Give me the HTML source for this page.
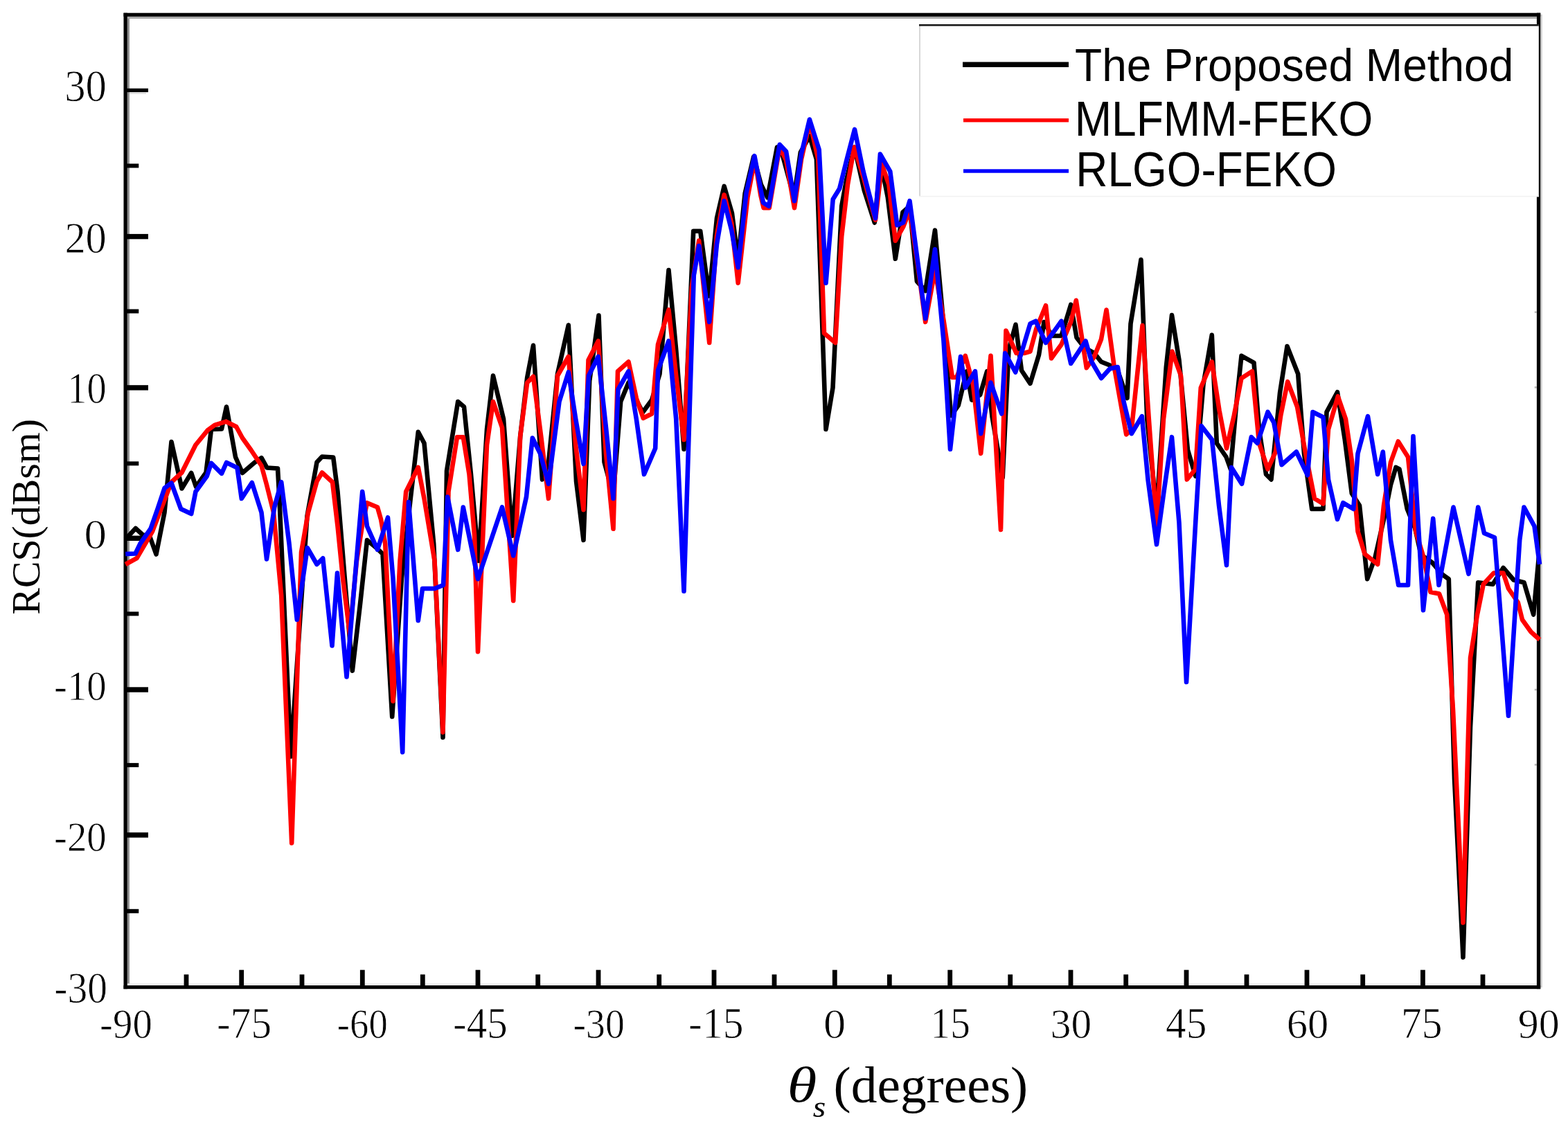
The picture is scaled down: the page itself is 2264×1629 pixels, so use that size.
<!DOCTYPE html>
<html lang="en"><head><meta charset="utf-8"><title>RCS comparison</title>
<style>html,body{margin:0;padding:0;background:#fff;}body{width:2264px;height:1629px;overflow:hidden;}svg{display:block;}</style>
</head><body>
<svg width="2264" height="1629" viewBox="0 0 2264 1629">
<rect x="0" y="0" width="2264" height="1629" fill="#fff"/>
<g>
<rect x="183.8" y="23.9" width="3.1" height="1399" fill="#8c8c8c"/>
<rect x="183.8" y="23.9" width="2035" height="3.1" fill="#a8a8a8"/>
<rect x="2224.2" y="21" width="2.6" height="1405" fill="#cfcfcf"/>
<rect x="183.8" y="1420.3" width="2035" height="2.8" fill="#ebebeb"/>
<rect x="178.5" y="18.7" width="5.3" height="1409.5" fill="#000"/>
<rect x="2218.9" y="18.7" width="5.3" height="1409.5" fill="#000"/>
<rect x="178.5" y="18.7" width="2045.7" height="5.2" fill="#000"/>
<rect x="178.5" y="1423.1" width="2045.7" height="5.1" fill="#000"/>
<rect x="345.3" y="1400.7" width="6.8" height="23" fill="#000"/>
<rect x="519.9" y="1400.7" width="6.8" height="23" fill="#000"/>
<rect x="686.6" y="1400.7" width="6.8" height="23" fill="#000"/>
<rect x="860.6" y="1400.7" width="6.8" height="23" fill="#000"/>
<rect x="1027.6" y="1400.7" width="6.8" height="23" fill="#000"/>
<rect x="1201.9" y="1400.7" width="6.8" height="23" fill="#000"/>
<rect x="1368.3" y="1400.7" width="6.8" height="23" fill="#000"/>
<rect x="1542.6" y="1400.7" width="6.8" height="23" fill="#000"/>
<rect x="1709.6" y="1400.7" width="6.8" height="23" fill="#000"/>
<rect x="1883.6" y="1400.7" width="6.8" height="23" fill="#000"/>
<rect x="2051.0" y="1400.7" width="6.8" height="23" fill="#000"/>
<rect x="265.6" y="1407.3" width="6.8" height="17" fill="#000"/>
<rect x="432.6" y="1407.3" width="6.8" height="17" fill="#000"/>
<rect x="606.9" y="1407.3" width="6.8" height="17" fill="#000"/>
<rect x="773.3" y="1407.3" width="6.8" height="17" fill="#000"/>
<rect x="948.3" y="1407.3" width="6.8" height="17" fill="#000"/>
<rect x="1114.6" y="1407.3" width="6.8" height="17" fill="#000"/>
<rect x="1280.9" y="1407.3" width="6.8" height="17" fill="#000"/>
<rect x="1455.3" y="1407.3" width="6.8" height="17" fill="#000"/>
<rect x="1622.3" y="1407.3" width="6.8" height="17" fill="#000"/>
<rect x="1796.6" y="1407.3" width="6.8" height="17" fill="#000"/>
<rect x="1964.3" y="1407.3" width="6.8" height="17" fill="#000"/>
<rect x="2137.6" y="1407.3" width="6.8" height="17" fill="#000"/>
<rect x="183" y="127.7" width="31" height="5.4" fill="#000"/>
<rect x="187" y="133.1" width="24" height="2.6" fill="#ddd"/>
<rect x="183" y="337.9" width="31" height="7.4" fill="#000"/>
<rect x="183" y="556.2" width="31" height="7.4" fill="#000"/>
<rect x="183" y="773.6" width="31" height="7.4" fill="#000"/>
<rect x="183" y="992.3" width="31" height="7.4" fill="#000"/>
<rect x="183" y="1202.2" width="31" height="7.4" fill="#000"/>
<rect x="183" y="236.4" width="17.3" height="6.0" fill="#000"/>
<rect x="183" y="446.5" width="17.3" height="6.0" fill="#000"/>
<rect x="183" y="666.4" width="17.3" height="6.0" fill="#000"/>
<rect x="183" y="883.4" width="17.3" height="6.0" fill="#000"/>
<rect x="183" y="1101.9" width="17.3" height="6.0" fill="#000"/>
<rect x="183" y="1312.8" width="17.3" height="6.0" fill="#000"/>
</g>
<g fill="none" stroke-width="6.6" stroke-linejoin="round" stroke-linecap="butt">
<polyline points="181.2,778.8 195.8,763.0 206.2,772.5 216.2,774.5 225.5,800.5 237.5,740.0 247.5,638.0 262.5,705.5 276.2,683.0 283.0,703.0 297.5,682.5 305.0,620.0 320.0,619.5 327.0,587.5 340.0,660.0 350.0,683.0 367.5,668.0 377.5,661.2 385.5,675.5 401.0,676.5 403.5,722.5 420.0,1092.5 433.0,897.5 443.5,745.0 457.5,667.5 465.0,659.5 481.2,660.5 487.5,710.0 498.8,847.5 508.8,968.8 520.0,872.5 530.0,780.0 545.0,792.5 552.5,800.0 566.2,1035.0 580.0,835.0 592.5,722.5 603.8,623.8 612.5,640.0 626.2,785.0 639.5,1065.0 645.0,680.0 661.2,580.0 670.0,587.5 680.0,685.0 691.2,810.0 703.0,620.0 712.0,542.5 727.0,605.0 739.5,773.8 751.2,630.0 761.2,545.0 770.0,498.8 783.0,692.5 792.0,667.5 805.0,540.0 820.8,469.5 832.0,695.0 842.5,780.0 851.2,550.0 864.5,455.5 872.5,667.5 885.5,715.0 896.2,580.0 907.5,552.5 920.0,580.0 928.0,595.5 941.2,577.5 952.5,540.0 965.5,390.0 976.2,505.0 987.5,648.8 1001.2,333.8 1011.2,333.8 1023.8,427.5 1035.0,315.0 1045.6,268.9 1056.9,307.7 1065.7,375.3 1075.7,278.9 1088.2,226.3 1098.8,266.4 1108.2,285.2 1122.0,212.6 1129.5,222.6 1146.4,285.2 1155.8,220.1 1168.9,196.3 1178.9,230.1 1192.5,620.0 1202.5,560.0 1215.2,297.7 1222.1,260.1 1233.7,212.6 1247.8,275.1 1262.8,321.5 1271.5,232.6 1281.8,285.2 1292.8,373.8 1303.5,306.4 1313.5,297.7 1323.9,406.3 1336.2,420.0 1350.0,332.5 1361.2,455.0 1373.2,600.3 1383.8,585.3 1395.7,536.4 1403.2,577.7 1415.1,570.2 1425.1,536.4 1432.7,602.8 1447.7,689.9 1453.3,571.5 1456.5,505.1 1466.5,468.8 1475.0,535.0 1487.5,553.8 1500.0,512.5 1507.5,465.0 1518.8,485.0 1532.5,485.0 1546.2,440.0 1554.5,487.5 1566.2,502.5 1580.0,510.0 1590.0,522.5 1602.5,527.5 1613.8,535.0 1627.5,575.0 1632.5,467.5 1647.5,375.0 1656.2,605.0 1670.0,737.5 1683.8,530.0 1692.0,455.0 1702.5,520.0 1715.0,650.0 1726.2,687.5 1737.5,555.0 1749.8,483.8 1756.8,640.0 1770.5,660.0 1776.8,677.5 1785.5,580.0 1792.5,513.8 1810.5,523.8 1818.0,620.0 1828.0,685.0 1835.5,692.5 1848.0,567.5 1858.5,500.0 1874.2,540.0 1883.0,655.0 1894.2,735.0 1910.5,735.0 1915.5,595.0 1931.0,566.2 1941.8,635.0 1951.8,712.5 1963.0,730.0 1974.2,836.2 1985.5,805.0 1998.0,750.0 2008.0,700.0 2015.5,675.0 2020.5,677.5 2031.8,735.0 2043.0,762.5 2051.8,801.2 2068.0,812.5 2083.0,830.0 2091.8,836.2 2100.0,1125.0 2112.5,1382.5 2123.0,1050.0 2134.2,841.2 2155.5,843.8 2170.5,820.0 2185.5,837.5 2200.5,841.2 2214.2,887.5 2221.8,805.0" stroke="#000"/>
<polyline points="181.2,815.0 197.5,806.2 220.0,767.5 247.5,696.2 262.5,682.5 282.5,642.5 300.0,621.2 310.0,613.8 326.2,608.8 341.2,616.2 350.0,632.5 362.5,650.0 377.5,672.5 385.0,700.0 395.0,740.0 406.2,860.0 421.2,1217.5 435.0,797.5 445.0,740.0 457.5,695.0 465.0,682.5 480.0,696.2 487.5,760.0 495.0,835.0 505.0,915.0 515.0,810.0 523.2,757.5 530.0,726.2 545.0,732.5 550.0,750.0 556.2,785.0 567.5,1012.5 577.5,810.0 586.2,710.0 603.8,675.0 612.5,720.0 627.5,810.0 639.5,1057.5 647.5,710.0 660.0,631.2 668.8,631.2 677.5,685.0 685.0,772.5 690.0,941.2 703.0,642.5 712.0,580.0 725.0,617.5 741.2,867.5 751.2,630.0 761.2,552.5 770.0,543.8 781.2,630.0 792.0,720.0 805.0,542.5 820.8,515.0 831.2,642.5 842.5,736.2 849.5,520.0 863.8,492.5 875.0,655.0 885.5,763.8 892.0,536.2 907.5,522.5 918.8,575.0 928.8,603.8 941.2,597.5 950.0,497.5 965.5,447.5 976.2,542.5 987.5,635.0 998.8,415.0 1009.2,347.5 1024.2,495.0 1035.0,340.0 1045.6,281.4 1056.3,322.7 1065.7,408.7 1079.4,285.2 1089.8,230.1 1098.2,281.4 1102.6,300.2 1110.7,300.2 1125.7,212.6 1135.1,231.3 1147.0,300.2 1157.0,230.1 1169.2,176.3 1181.4,230.1 1190.0,481.2 1206.2,495.0 1215.2,341.5 1224.0,266.4 1233.4,212.6 1246.5,255.1 1264.0,317.7 1273.4,237.6 1283.4,266.4 1292.8,347.7 1304.1,327.7 1313.5,303.9 1325.8,387.6 1336.2,465.0 1350.0,390.0 1362.5,462.5 1375.0,545.0 1381.2,545.0 1393.8,513.8 1405.0,555.0 1416.2,655.0 1430.5,513.8 1445.0,765.0 1452.5,477.5 1467.5,510.0 1478.8,510.0 1487.5,507.5 1496.2,475.0 1510.0,441.2 1518.0,517.5 1532.5,497.5 1546.2,465.0 1553.8,433.8 1568.8,531.2 1580.0,515.0 1590.0,490.0 1597.5,447.5 1608.8,530.0 1626.2,627.5 1633.8,620.0 1649.5,470.0 1658.8,605.0 1670.0,758.8 1680.0,605.0 1692.5,507.5 1705.0,542.5 1713.8,692.5 1726.2,677.5 1733.8,560.0 1749.8,522.5 1760.5,592.5 1771.0,647.5 1781.8,600.0 1792.5,546.2 1808.0,536.2 1818.0,640.0 1830.5,677.5 1841.8,652.5 1849.2,600.0 1859.2,551.2 1873.0,587.5 1884.2,650.0 1898.0,720.0 1910.5,727.5 1918.0,620.0 1931.8,572.5 1943.0,605.0 1951.8,665.0 1960.5,767.5 1970.5,800.0 1989.2,815.0 1998.0,730.0 2008.0,667.5 2018.8,637.5 2033.0,660.0 2044.2,767.5 2055.5,805.0 2065.5,855.0 2078.0,857.5 2089.2,887.5 2098.0,1025.0 2112.5,1332.5 2123.0,950.0 2133.0,887.5 2141.8,843.8 2156.8,827.5 2170.5,827.5 2178.0,850.0 2191.8,870.0 2198.0,895.0 2210.5,912.5 2223.0,923.8" stroke="#f00"/>
<polyline points="181.2,800.0 195.5,799.5 202.5,785.0 217.5,763.5 227.5,735.0 237.5,705.0 247.5,697.5 261.2,735.0 276.2,742.0 282.5,710.0 298.8,687.5 305.0,668.8 320.0,683.8 327.0,668.0 342.5,675.5 348.8,720.0 363.8,697.0 377.5,740.0 385.0,807.5 396.2,732.5 406.2,696.2 417.5,785.0 428.8,895.0 443.8,791.2 457.5,815.0 466.2,806.2 479.5,932.5 487.0,827.5 500.5,977.5 512.5,835.0 523.2,710.0 530.0,760.0 545.0,793.8 560.0,747.5 567.5,835.0 581.2,1086.2 590.0,725.0 603.8,896.2 610.0,850.0 627.5,850.0 640.0,845.0 646.2,717.5 661.2,793.8 668.8,732.5 690.0,836.2 725.0,732.5 741.2,802.5 760.0,717.5 768.8,632.5 780.0,655.0 792.0,698.8 807.5,580.0 820.8,537.5 831.2,605.0 842.5,670.0 850.0,542.5 863.8,515.0 875.0,617.5 885.5,720.0 892.5,562.5 907.5,536.2 918.8,605.0 930.0,685.0 946.2,647.5 950.0,535.0 965.5,492.5 976.2,605.0 987.5,853.8 1001.8,397.5 1009.2,355.0 1024.2,465.0 1035.0,352.5 1045.6,290.2 1056.3,332.7 1065.7,386.3 1077.5,278.9 1089.4,225.1 1102.0,292.7 1110.1,297.7 1125.7,208.8 1135.1,218.8 1147.0,290.2 1157.0,222.6 1168.9,172.5 1182.7,216.3 1192.5,408.8 1202.7,287.7 1212.1,272.6 1222.7,230.1 1234.0,186.9 1246.5,247.6 1264.0,315.2 1270.9,222.6 1285.3,247.6 1295.3,325.2 1304.1,321.5 1313.5,290.2 1325.0,377.5 1336.2,460.0 1350.0,360.0 1362.5,492.5 1372.0,648.8 1387.0,515.0 1393.8,560.0 1408.0,536.2 1416.2,626.2 1430.5,552.5 1446.2,597.5 1451.2,510.0 1466.2,537.5 1476.2,505.0 1487.5,467.5 1495.5,463.8 1510.0,495.0 1532.5,463.8 1546.2,525.0 1567.5,492.5 1576.2,522.5 1590.0,546.2 1602.5,532.5 1613.8,530.0 1622.5,580.0 1633.8,626.2 1648.8,601.2 1657.5,692.5 1670.0,786.2 1681.2,705.0 1692.0,631.2 1702.5,755.0 1713.0,985.0 1726.2,755.0 1734.5,615.0 1750.0,635.0 1760.0,730.0 1771.0,816.2 1778.0,675.0 1793.0,698.8 1806.8,631.2 1815.5,640.0 1830.5,595.0 1839.2,610.0 1850.5,671.2 1871.8,652.5 1888.0,686.2 1895.5,595.0 1910.5,602.5 1918.0,692.5 1931.0,750.0 1939.2,726.2 1954.2,735.0 1960.5,655.0 1975.0,601.2 1989.2,685.0 1996.8,652.5 2008.0,780.0 2019.2,845.0 2033.0,845.0 2040.5,630.0 2055.0,881.2 2069.2,748.8 2077.5,845.0 2098.5,732.5 2120.5,828.8 2134.2,732.5 2143.0,770.0 2158.0,776.2 2178.0,1033.8 2194.2,780.0 2200.5,732.5 2215.5,760.0 2223.0,815.0" stroke="#00f"/>
</g>
<g>
<rect x="1328" y="35" width="893.8" height="249" fill="#fff"/>
<rect x="1327" y="35" width="2" height="249" fill="#d8d8d8"/>
<rect x="1327" y="35" width="894.8" height="2.6" fill="#1a1a1a"/>
<rect x="1327" y="282.8" width="894.8" height="1.6" fill="#f2f2f2"/>
<rect x="1390" y="89.5" width="153" height="7.5" fill="#000"/>
<rect x="1391" y="171" width="152" height="5.4" fill="#f00"/>
<rect x="1391" y="244.3" width="152" height="5.4" fill="#00f"/>
<text transform="matrix(0.6400,0,0,0.6692,1552.06,116.51)" font-family="'Liberation Sans', sans-serif" font-size="100" fill="#000">The Proposed Method</text>
<text transform="matrix(0.6406,0,0,0.7025,1551.71,196.30)" font-family="'Liberation Sans', sans-serif" font-size="100" fill="#000">MLFMM-FEKO</text>
<text transform="matrix(0.6395,0,0,0.6968,1553.32,268.70)" font-family="'Liberation Sans', sans-serif" font-size="100" fill="#000">RLGO-FEKO</text>
</g>
<rect x="2215.8" y="449.5" width="3.2" height="2.6" fill="#b4b4b4"/>
<rect x="2215.8" y="558.1" width="3.2" height="2.6" fill="#b4b4b4"/>
<rect x="2215.8" y="994.7" width="3.2" height="2.6" fill="#b4b4b4"/>
<rect x="2215.8" y="1103.1" width="3.2" height="2.6" fill="#b4b4b4"/>
<text transform="matrix(0.5686,0,0,0.6207,144.07,1499.08)" font-family="'Liberation Serif', serif" stroke="#fff" stroke-width="1.3" stroke-linejoin="round" font-size="100" fill="#000">-90</text>
<text transform="matrix(0.5928,0,0,0.6301,313.08,1499.07)" font-family="'Liberation Serif', serif" stroke="#fff" stroke-width="1.3" stroke-linejoin="round" font-size="100" fill="#000">-75</text>
<text transform="matrix(0.5471,0,0,0.6207,486.85,1499.08)" font-family="'Liberation Serif', serif" stroke="#fff" stroke-width="1.3" stroke-linejoin="round" font-size="100" fill="#000">-60</text>
<text transform="matrix(0.5904,0,0,0.6277,654.09,1499.07)" font-family="'Liberation Serif', serif" stroke="#fff" stroke-width="1.3" stroke-linejoin="round" font-size="100" fill="#000">-45</text>
<text transform="matrix(0.5575,0,0,0.6207,827.51,1499.08)" font-family="'Liberation Serif', serif" stroke="#fff" stroke-width="1.3" stroke-linejoin="round" font-size="100" fill="#000">-30</text>
<text transform="matrix(0.5960,0,0,0.6254,994.06,1499.07)" font-family="'Liberation Serif', serif" stroke="#fff" stroke-width="1.3" stroke-linejoin="round" font-size="100" fill="#000">-15</text>
<text transform="matrix(0.6447,0,0,0.6207,1188.88,1499.08)" font-family="'Liberation Serif', serif" stroke="#fff" stroke-width="1.3" stroke-linejoin="round" font-size="100" fill="#000">0</text>
<text transform="matrix(0.5742,0,0,0.6254,1343.58,1499.07)" font-family="'Liberation Serif', serif" stroke="#fff" stroke-width="1.3" stroke-linejoin="round" font-size="100" fill="#000">15</text>
<text transform="matrix(0.5934,0,0,0.6207,1516.78,1499.08)" font-family="'Liberation Serif', serif" stroke="#fff" stroke-width="1.3" stroke-linejoin="round" font-size="100" fill="#000">30</text>
<text transform="matrix(0.5936,0,0,0.6277,1683.11,1499.07)" font-family="'Liberation Serif', serif" stroke="#fff" stroke-width="1.3" stroke-linejoin="round" font-size="100" fill="#000">45</text>
<text transform="matrix(0.6065,0,0,0.6207,1857.72,1499.08)" font-family="'Liberation Serif', serif" stroke="#fff" stroke-width="1.3" stroke-linejoin="round" font-size="100" fill="#000">60</text>
<text transform="matrix(0.5944,0,0,0.6301,2023.04,1499.07)" font-family="'Liberation Serif', serif" stroke="#fff" stroke-width="1.3" stroke-linejoin="round" font-size="100" fill="#000">75</text>
<text transform="matrix(0.6000,0,0,0.6207,2191.65,1499.08)" font-family="'Liberation Serif', serif" stroke="#fff" stroke-width="1.3" stroke-linejoin="round" font-size="100" fill="#000">90</text>
<text transform="matrix(0.6066,0,0,0.6519,93.22,146.35)" font-family="'Liberation Serif', serif" stroke="#fff" stroke-width="1.3" stroke-linejoin="round" font-size="100" fill="#000">30</text>
<text transform="matrix(0.6049,0,0,0.6326,93.38,364.87)" font-family="'Liberation Serif', serif" stroke="#fff" stroke-width="1.3" stroke-linejoin="round" font-size="100" fill="#000">20</text>
<text transform="matrix(0.5634,0,0,0.6400,97.37,582.06)" font-family="'Liberation Serif', serif" stroke="#fff" stroke-width="1.3" stroke-linejoin="round" font-size="100" fill="#000">10</text>
<text transform="matrix(0.6494,0,0,0.6104,121.56,792.49)" font-family="'Liberation Serif', serif" stroke="#fff" stroke-width="1.3" stroke-linejoin="round" font-size="100" fill="#000">0</text>
<text transform="matrix(0.5686,0,0,0.6193,77.97,1010.68)" font-family="'Liberation Serif', serif" stroke="#fff" stroke-width="1.3" stroke-linejoin="round" font-size="100" fill="#000">-10</text>
<text transform="matrix(0.5686,0,0,0.6193,77.97,1228.98)" font-family="'Liberation Serif', serif" stroke="#fff" stroke-width="1.3" stroke-linejoin="round" font-size="100" fill="#000">-20</text>
<text transform="matrix(0.5757,0,0,0.6281,78.24,1447.67)" font-family="'Liberation Serif', serif" stroke="#fff" stroke-width="1.3" stroke-linejoin="round" font-size="100" fill="#000">-30</text>
<g transform="translate(0,885.9) rotate(-90)"><text transform="matrix(0.5779,0,0,0.5730,-1.73,57.32)" font-family="'Liberation Serif', serif" font-size="100" fill="#000">RCS(dBsm)</text></g>
<text transform="matrix(0.8671,0,0,0.7268,1136.86,1590.97)" font-family="'Liberation Serif', serif" font-style="italic" font-size="100" fill="#000">θ</text>
<text transform="matrix(0.4754,0,0,0.4417,1173.71,1613.16)" font-family="'Liberation Serif', serif" font-style="italic" font-size="100" fill="#000">s</text>
<text transform="matrix(0.7541,0,0,0.7385,1203.61,1591.82)" font-family="'Liberation Serif', serif" font-size="100" fill="#000">(degrees)</text>
</svg>
</body></html>
